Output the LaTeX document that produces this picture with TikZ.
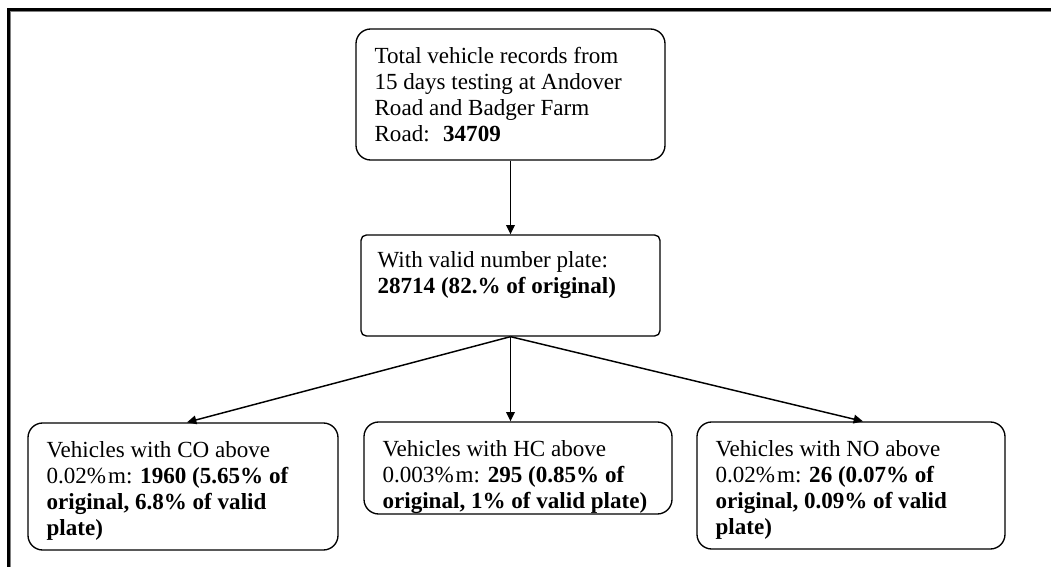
\documentclass[tikz,border=0pt]{standalone}
\usepackage{fontspec}
\setmainfont{Liberation Serif}
\usetikzlibrary{arrows.meta}
\usetikzlibrary{calc}

\begin{document}
\begin{tikzpicture}[
  x = .75pt, y = -.75pt,
  box/.style = {draw, line width = 1pt, rounded corners = 11pt, inner sep = 0},
  txt/.style = {anchor = north west, inner sep = 0, align = left,
    font = \fontsize{17.3}{19.5}\selectfont},
  arr/.style = {line width = 1.1pt, -{Triangle[length = 7pt, width = 6.5pt]}}
  ]
  \useasboundingbox (0, 0) rectangle (1051, 567);

  % frame, only top and left edge show
  \draw[line width = 2.25pt] (8.2, 567) -- (8.2, 9.5) -- (1051, 9.5);
  \draw[gray, line width = .75pt] (10.5, 567) -- (10.5, 11.7) -- (1051, 11.7);

  \node[box, minimum width = 231.75pt, minimum height = 98.25pt] (total)
  at (510.5, 94.5) {};
  \node[txt] (total-txt) at ($(total.north west) + (19, 18.5)$)
  {Total vehicle records from\\15 days testing at Andover\\Road and Badger
    Farm\\Road:~ \textbf{34709}};

  \node[box, rounded corners = 4pt, minimum width = 224.25pt,
  minimum height = 75.75pt] (valid) at (510.5, 285.5) {};
  \node[txt] (valid-txt) at ($(valid.north west) + (17, 16.5)$)
  {With valid number plate:\\\textbf{28714 (82.\% of original)}};

  \node[box, minimum width = 232.5pt, minimum height = 95.25pt] (co)
  at (183, 486.5) {};
  \node[txt] (co-txt) at ($(co.north west) + (19, 18.5)$)
  {Vehicles with CO above\\0.02\%\kern1.5pt m: \textbf{1960 (5.65\% of}\\
    \textbf{original, 6.8\% of valid}\\\textbf{plate)}};

  \node[box, minimum width = 231pt, minimum height = 69pt] (hc)
  at (518, 468) {};
  \node[txt] (hc-txt) at ($(hc.north west) + (19, 18.5)$)
  {Vehicles with HC above\\0.003\%\kern1.5pt m: \textbf{295 (0.85\% of}\\
    \textbf{original, 1\% of valid plate)}};

  \node[box, minimum width = 231pt, minimum height = 95.25pt] (no)
  at (851, 485.5) {};
  \node[txt] (no-txt) at ($(no.north west) + (19, 18.5)$)
  {Vehicles with NO above\\0.02\%\kern1.5pt m: \textbf{26 (0.07\% of}\\
    \textbf{original, 0.09\% of valid}\\\textbf{plate)}};

  \draw[arr] (total.south) -- (valid.north);
  \draw[arr] (valid.south) -- ($(co.north) + (4, 0)$);
  \draw[arr] (valid.south) -- (valid.south |- hc.north);
  \draw[arr] (valid.south) -- ($(no.north) + (12, 0)$);
\end{tikzpicture}
\end{document}
